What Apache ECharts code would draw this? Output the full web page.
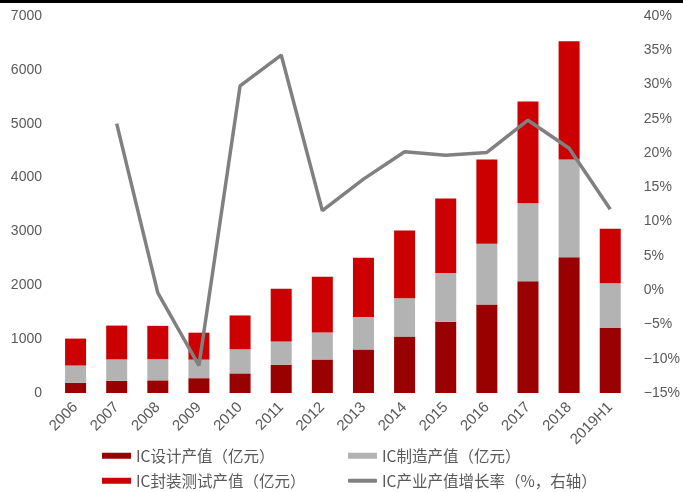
<!DOCTYPE html>
<html>
<head>
<meta charset="utf-8">
<script src="https://cdn.jsdelivr.net/npm/echarts@6/dist/echarts.min.js"></script>
<style>
  html, body { margin: 0; padding: 0; background: #fff; }
</style>
</head>
<body>
<!-- 图表容器 -->
<div id="icChart" style="width: 683px; height: 492px"></div>
<script>
// 年份
const years = ['2006', '2007', '2008', '2009', '2010', '2011', '2012', '2013', '2014', '2015', '2016', '2017', '2018', '2019H1']
// IC设计产值（亿元）
const designData = [190, 226, 235, 275, 364, 526, 622, 809, 1047, 1325, 1644, 2074, 2519, 1206]
// IC制造产值（亿元）
const manufData = [320, 398, 393, 345, 447, 432, 501, 601, 712, 901, 1127, 1448, 1818, 834]
// IC封装测试产值（亿元）
const packData = [500, 628, 619, 500, 629, 976, 1036, 1099, 1256, 1384, 1564, 1890, 2194, 1008]
// IC产业产值增长率（%），2006年无数据
const growthData = [null, 24.3, -0.4, -11.0, 29.8, 34.3, 11.6, 16.2, 20.2, 19.7, 20.1, 24.8, 20.7, 11.8]

const labelColor = '#595959'
const numFont = 'Liberation Sans'
const cjkFont = 'Noto Sans CJK SC'

const chart = echarts.init(document.getElementById('icChart'))

// 单项图例，方便逐个定位
const makeLegend = (name, left, top, icon, h) => ({
  data: [{ name, icon }],
  left,
  top,
  padding: 0,
  itemWidth: 29,
  itemHeight: h,
  textStyle: { fontFamily: cjkFont, fontSize: 15.5, color: labelColor }
})

const option = {
  animation: false,
  backgroundColor: '#fff',
  graphic: [
    { type: 'rect', shape: { x: 0, y: 0, width: 683, height: 3 }, style: { fill: '#000' } }
  ],
  legend: [
    makeLegend('IC设计产值（亿元）', 102, 448, 'rect', 6),
    makeLegend('IC制造产值（亿元）', 348, 448, 'rect', 6),
    makeLegend('IC封装测试产值（亿元）', 102, 473, 'rect', 6),
    makeLegend('IC产业产值增长率（%，右轴）', 348, 473, 'roundRect', 4)
  ],
  grid: {
    left: 55,
    right: 44,
    top: 16,
    height: 377
  },
  xAxis: {
    type: 'category',
    data: years,
    axisLine: { show: false },
    axisTick: { show: false },
    axisLabel: {
      rotate: 45,
      margin: 12,
      fontSize: 15,
      fontFamily: numFont,
      color: labelColor
    }
  },
  yAxis: [
    {
      type: 'value',
      min: 0,
      max: 7000,
      interval: 1000,
      axisLine: { show: false },
      axisTick: { show: false },
      splitLine: { show: false },
      axisLabel: {
        margin: 13,
        fontSize: 14,
        fontFamily: numFont,
        color: labelColor,
        formatter: v => String(v)
      }
    },
    {
      type: 'value',
      min: -15,
      max: 40,
      interval: 5,
      axisLine: { show: false },
      axisTick: { show: false },
      splitLine: { show: false },
      axisLabel: {
        margin: 13,
        fontSize: 14,
        fontFamily: numFont,
        color: labelColor,
        formatter: v => (v < 0 ? '\u2212' + Math.abs(v) : v) + '%'
      }
    }
  ],
  series: [
    {
      name: 'IC设计产值（亿元）',
      type: 'bar',
      stack: 'ic',
      barWidth: 21,
      data: designData,
      itemStyle: { color: '#990000' }
    },
    {
      name: 'IC制造产值（亿元）',
      type: 'bar',
      stack: 'ic',
      barWidth: 21,
      data: manufData,
      itemStyle: { color: '#b3b3b3' }
    },
    {
      name: 'IC封装测试产值（亿元）',
      type: 'bar',
      stack: 'ic',
      barWidth: 21,
      data: packData,
      itemStyle: { color: '#cc0000' }
    },
    {
      name: 'IC产业产值增长率（%，右轴）',
      type: 'line',
      yAxisIndex: 1,
      data: growthData,
      symbol: 'none',
      lineStyle: { color: '#808080', width: 3.5 },
      itemStyle: { color: '#808080' }
    }
  ]
}

chart.setOption(option)
</script>
</body>
</html>
